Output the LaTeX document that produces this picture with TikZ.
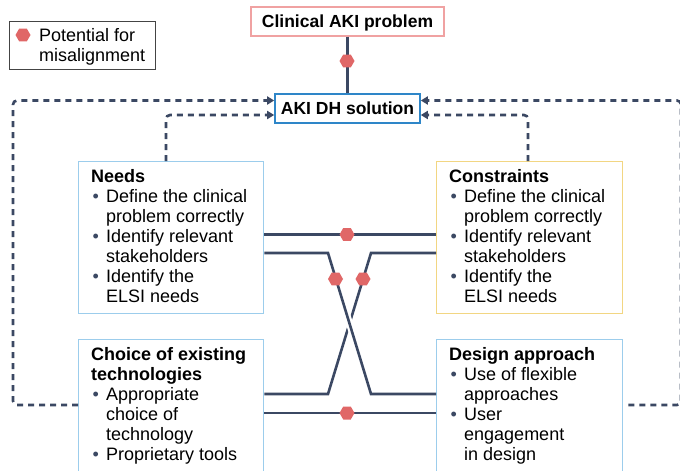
\documentclass[tikz,border=0pt]{standalone}
\usepackage{fontspec}
\setmainfont{Liberation Sans}
\usetikzlibrary{arrows.meta,shapes.geometric,calc}

\definecolor{ink}{HTML}{3B4863}
\definecolor{mis}{HTML}{E06767}
\definecolor{pinkb}{HTML}{F0A2A2}
\definecolor{blueb}{HTML}{2E86C8}
\definecolor{skyb}{HTML}{9CCDEC}
\definecolor{goldb}{HTML}{F2D682}
\definecolor{legb}{HTML}{444444}

% bullet and hanging indent for the list items
\newcommand\bul{\makebox[15pt][l]{\hspace{1.5pt}\textcolor{ink}{\textbullet}}}
\newcommand\hang{\hspace*{15pt}}

\begin{document}
\begin{tikzpicture}[x=1pt,y=-1pt,
  link/.style={draw=ink, line width=2.6pt},
  feedback/.style={draw=ink, line width=2.6pt, dash pattern=on 6pt off 5pt, rounded corners=4pt},
  tip/.style={-{Triangle[length=7pt,width=8pt]}},
  hexmark/.style={regular polygon, regular polygon sides=6, fill=mis, draw=none, inner sep=0pt, minimum size=15pt},
  panel/.style={draw=#1, line width=1.4pt, fill=white, anchor=north west, inner sep=0pt},
  headbox/.style={draw=#1, fill=white, inner sep=0pt, font=\fontsize{17.5}{20}\selectfont\bfseries,
                  text height=12.5pt, text depth=0pt},
  body/.style={anchor=north west, align=left, inner sep=0pt, font=\fontsize{18}{20}\selectfont},
]
\useasboundingbox (0,0) rectangle (680,471);
\fill[white] (0,0) rectangle (680,471);
\clip (0,0) rectangle (680,471);

% legend
\node[draw=legb, line width=1pt, anchor=north west, minimum width=146pt, minimum height=48pt, inner sep=0pt] (legend) at (9,21) {};
\node[hexmark] (legmark) at (23,35) {};
\node[body, font=\fontsize{18}{19.5}\selectfont] (legtext) at (39,28.5) {Potential for\\misalignment};

% top boxes
\node[headbox=pinkb, line width=1.3pt, minimum width=193pt, minimum height=29pt] (clinical) at (347.5,21.5) {Clinical AKI problem};
\node[headbox=blueb, line width=1.6pt, minimum width=145pt, minimum height=29pt] (aki) at (347.5,108.5) {AKI DH solution};

% panels
\node[panel=skyb, minimum width=185pt, minimum height=152pt] (needs) at (78,161) {};
\node[panel=goldb, minimum width=186pt, minimum height=152pt] (constraints) at (436,161) {};
\node[panel=skyb, minimum width=185pt, minimum height=150pt] (choice) at (78,339) {};
\node[panel=skyb, minimum width=186pt, minimum height=150pt] (design) at (436,339) {};

\node[body] (needstxt) at (91,168.8) {\textbf{Needs}\\
  \bul Define the clinical\\ \hang problem correctly\\
  \bul Identify relevant\\ \hang stakeholders\\
  \bul Identify the\\ \hang ELSI needs};
\node[body] (constrtxt) at (449,168.8) {\textbf{Constraints}\\
  \bul Define the clinical\\ \hang problem correctly\\
  \bul Identify relevant\\ \hang stakeholders\\
  \bul Identify the\\ \hang ELSI needs};
\node[body] (choicetxt) at (91,346.8) {\textbf{Choice of existing}\\ \textbf{technologies}\\
  \bul Appropriate\\ \hang choice of\\ \hang technology\\
  \bul Proprietary tools};
\node[body] (designtxt) at (449,346.8) {\textbf{Design approach}\\
  \bul Use of flexible\\ \hang approaches\\
  \bul User\\ \hang engagement\\ \hang in design};

% alignment links
\draw[link] (clinical) -- (aki);
\draw[link] (needs.east |- 0,234.5) -- (constraints.west |- 0,234.5);
\draw[link] (constraints.west |- 0,253) -- (371,253) -- (328,394) -- (choice.east |- 0,394);
\draw[white, line width=7pt] ($(328,253)!0.42!(371,394)$) -- ($(328,253)!0.58!(371,394)$);
\draw[link] (needs.east |- 0,253) -- (328,253) -- (371,394) -- (design.west |- 0,394);
\draw[link] (choice.east |- 0,413) -- (design.west |- 0,413);

% misalignment markers
\node[hexmark] (m1) at (347,61) {};
\node[hexmark] (m2) at (347,234.5) {};
\node[hexmark] (m3) at (335.5,279) {};
\node[hexmark] (m4) at (363,279) {};
\node[hexmark] (m5) at (347,413) {};

% feedback loops
\draw[feedback, tip] (choice.west |- 0,405) -- (13,405) -- (13,100.5) -- (aki.west |- 0,100.5);
\draw[feedback, tip] (needs.north -| 166,0) -- (166,115) -- (aki.west |- 0,115);
\draw[feedback, tip] (constraints.north -| 528,0) -- (528,115) -- (aki.east |- 0,115);
\draw[feedback, tip] ($(design.east |- 0,405)+(5,0)$) -- (681,405) -- (681,100.5) -- (aki.east |- 0,100.5);
\end{tikzpicture}
\end{document}
